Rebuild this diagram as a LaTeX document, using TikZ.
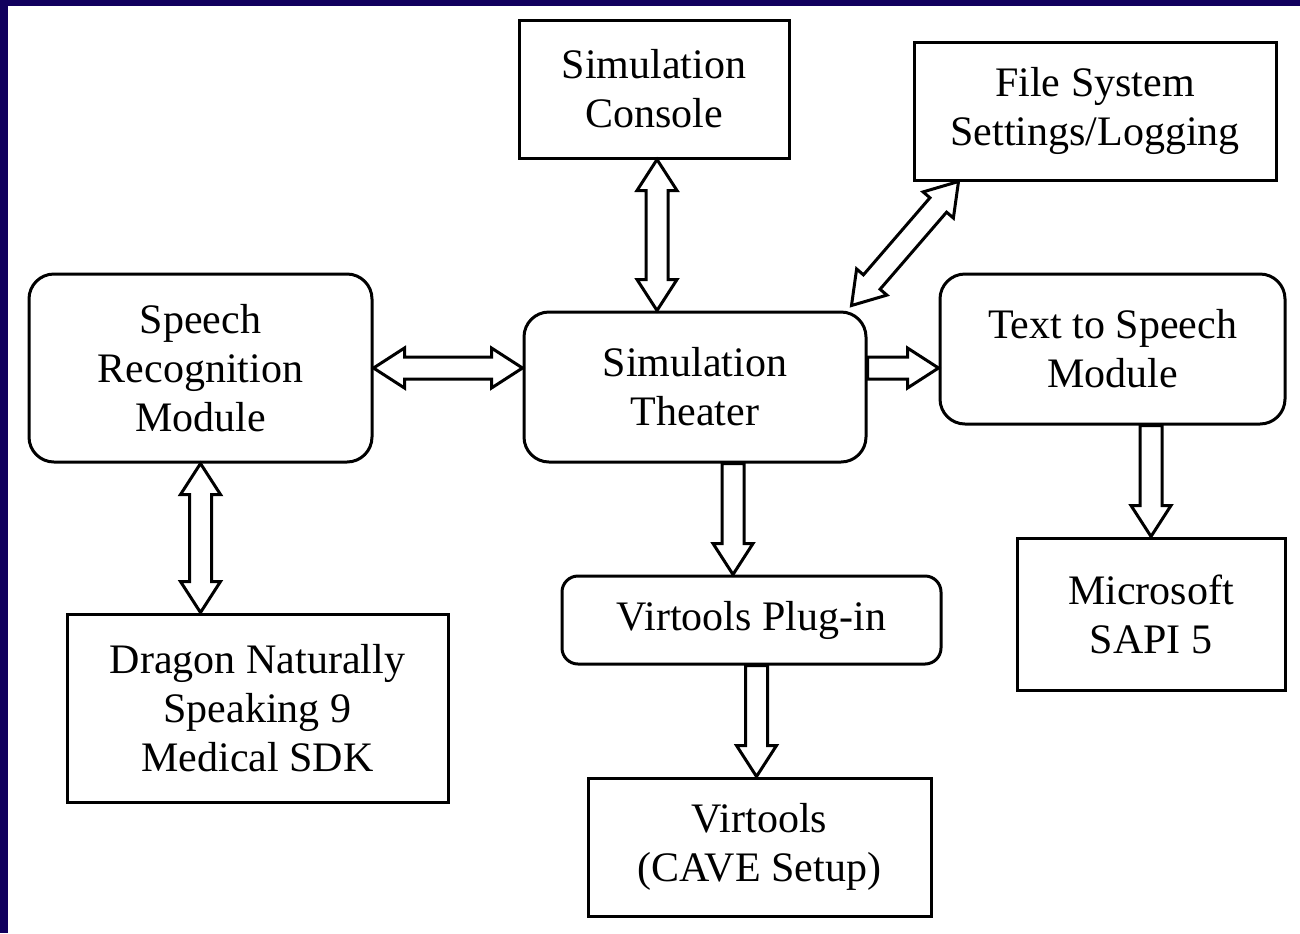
\documentclass[tikz,border=0pt]{standalone}
\usepackage{fontspec}
\setmainfont{Liberation Serif}
\usetikzlibrary{calc}
\definecolor{navy}{RGB}{17,0,94}
\begin{document}
\begin{tikzpicture}[x=0.5pt,y=-0.5pt,
  box/.style={draw, line width=1.5pt, align=center, inner sep=0pt,
    font=\fontsize{21pt}{24.5pt}\selectfont},
  rbox/.style={box, rounded corners=12.5pt},
  dblarrow/.style={draw, line width=1.5pt, fill=white, line join=miter,
    to path={
      -- ($(\tikztostart)!15.5pt!(\tikztotarget)!10pt!90:(\tikztotarget)$)
      -- ($(\tikztostart)!15.5pt!(\tikztotarget)!5.5pt!90:(\tikztotarget)$)
      -- ($(\tikztotarget)!15.5pt!(\tikztostart)!5.5pt!-90:(\tikztostart)$)
      -- ($(\tikztotarget)!15.5pt!(\tikztostart)!10pt!-90:(\tikztostart)$)
      -- (\tikztotarget)
      -- ($(\tikztotarget)!15.5pt!(\tikztostart)!10pt!90:(\tikztostart)$)
      -- ($(\tikztotarget)!15.5pt!(\tikztostart)!5.5pt!90:(\tikztostart)$)
      -- ($(\tikztostart)!15.5pt!(\tikztotarget)!5.5pt!-90:(\tikztotarget)$)
      -- ($(\tikztostart)!15.5pt!(\tikztotarget)!10pt!-90:(\tikztotarget)$)
      -- cycle}},
  sglarrow/.style={draw, line width=1.5pt, fill=white, line join=miter,
    to path={
      -- ($(\tikztostart)!5.5pt!90:(\tikztotarget)$)
      -- ($(\tikztotarget)!15.5pt!(\tikztostart)!5.5pt!-90:(\tikztostart)$)
      -- ($(\tikztotarget)!15.5pt!(\tikztostart)!10pt!-90:(\tikztostart)$)
      -- (\tikztotarget)
      -- ($(\tikztotarget)!15.5pt!(\tikztostart)!10pt!90:(\tikztostart)$)
      -- ($(\tikztotarget)!15.5pt!(\tikztostart)!5.5pt!90:(\tikztostart)$)
      -- ($(\tikztostart)!5.5pt!-90:(\tikztotarget)$)
      -- cycle}}
]
\useasboundingbox (0,0) rectangle (1300,933);
\fill[navy] (0,0) rectangle (1300,933);
\fill[white] (8,6) rectangle (1300,933);

\node[box, minimum width=135pt, minimum height=69pt] (con) at (654,89) {Simulation\\Console};
\node[box, minimum width=181pt, minimum height=69pt] (fs) at (1095,111) {File System\\Settings/Logging};
\node[rbox, minimum width=171.5pt, minimum height=94pt] (sr) at (200.5,368) {Speech\\Recognition\\Module};
\node[rbox, minimum width=171pt, minimum height=75pt] (th) at (695,387) {Simulation\\Theater};
\node[rbox, minimum width=172.5pt, minimum height=75pt] (tts) at (1112.5,349) {Text to Speech\\Module};
\node[box, minimum width=190.5pt, minimum height=94pt] (dr) at (257.5,708) {Dragon Naturally\\Speaking 9\\Medical SDK};
\node[box, rounded corners=8pt, minimum width=189.5pt, minimum height=44pt] (vp) at (751.5,620) {Virtools Plug-in};
\node[box, minimum width=134pt, minimum height=76pt] (ms) at (1151,614) {Microsoft\\SAPI 5};
\node[box, minimum width=171.5pt, minimum height=69pt] (vc) at (759.5,847) {Virtools\\(CAVE Setup)};

\coordinate (a1) at ([xshift=1.5pt]con.south);
\coordinate (a4) at ([xshift=19pt]th.south);
\coordinate (a5) at ([xshift=2.5pt]vp.south);
\coordinate (d1) at ([shift={(-8pt,2.5pt)}]th.north east);
\coordinate (d2) at ([xshift=23pt]fs.south west);

\draw[dblarrow] (a1) to (a1 |- th.north);
\draw[dblarrow] (sr.east) to (sr.east -| th.west);
\draw[dblarrow] (sr.south) to (sr.south |- dr.north);
\draw[dblarrow] (d1) to (d2);
\draw[sglarrow] (a4) to (a4 |- vp.north);
\draw[sglarrow] (a5) to (a5 |- vc.north);
\draw[sglarrow] (ms.north |- tts.south) to (ms.north);
\draw[sglarrow] (th.east |- sr.east) to (tts.west |- sr.east);
\end{tikzpicture}
\end{document}
